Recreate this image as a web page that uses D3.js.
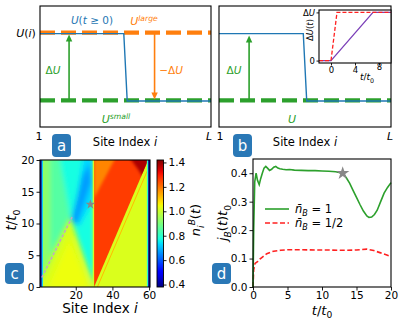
<!DOCTYPE html>
<html>
<head>
<meta charset="utf-8">
<script src="https://cdn.jsdelivr.net/npm/d3@7"></script>
<style>
body { margin: 0; background: #fff; }
text { font-family: "DejaVu Sans", sans-serif; }
</style>
</head>
<body>
<script>
const WIDTH = 399;
const HEIGHT = 319;

// ---- data ----
// panels a/b : potential profile (site fraction 0..1, level 0..1)
const uLarge = 0.78;
const uSmall = 0.22;
const stepX = [0, 0.49, 0.51, 1];
const stepU = [0.772, 0.772, 0.215, 0.215];
const arrowA = [0.17, 0.67];
const arrowB = 0.175;

// inset: ramp of delta U
const rampFastT = [-2, 0, 1, 10];
const rampFastU = [0, 0, 1, 1];
const rampSlowT = [-2, 0, 7, 10];
const rampSlowU = [0, 0, 1, 1];

// panel c : density map regions (site, t) with value n_i^B
const heatBase = 1.02;
const heatSoft = [
    { v: 1.045, pts: [[5, 0], [16.5, 7.5], [27, 0]] },
    { v: 0.92, pts: [[0.5, 0.6], [17, 11], [12, 20.5], [0.5, 20.5]] },
    { v: 0.85, pts: [[6, 5], [17, 11], [12, 20.5], [6, 20.5]] },
    { v: 0.77, pts: [[30, 0.2], [30, 20.5], [11, 20.5], [17, 11]] },
    { v: 0.73, pts: [[19, 11], [22, 9.5], [30, 14], [30, 20.5], [24, 20.5]] },
    { v: 0.67, pts: [[17.5, 10.5], [20.5, 9.8], [28.5, 16.5], [27.5, 19.5], [23.5, 17.5]] }
];
const heatCone = [[30, 0], [30, 20], [59.5, 20]];
const coneValue = 1.26;
const heatConeSoft = [
    { v: 1.18, pts: [[30, 14], [30, 20.5], [42, 20.5]] },
    { v: 1.38, pts: [[49, 20.5], [60, 20.5], [58.5, 16.5], [54, 18.5]] }
];
const heatStripe = { v: 1.12, pts: [[31.8, 0], [60.5, 19.3]] };
const heatEdges = [
    { v: 0.42, x0: 0.5, x1: 1.5 },
    { v: 0.72, x0: 1.5, x1: 2.1 },
    { v: 0.8, x0: 58.8, x1: 59.5 },
    { v: 0.42, x0: 59.5, x1: 60.5 }
];
const frontLine = [[1.5, 1.5], [18, 11]];
const starC = [28, 13];
const cbarTicks = [0.4, 0.6, 0.8, 1.0, 1.2, 1.4];

// panel d : current j_B(t) t0
const tFull = [0, 0.1, 0.25, 0.45, 0.65, 0.9, 1.1, 1.35, 1.6, 1.85, 2.1, 2.4, 2.7, 3.0, 3.3, 3.6, 3.9, 4.3, 4.8, 5.3, 6, 7, 8, 9, 10, 11, 12, 12.5, 13, 13.5, 14, 14.5, 15, 15.5, 16, 16.5, 16.8, 17.2, 17.6, 18, 18.5, 19, 19.5, 20];
const jFull = [0, 0.2, 0.37, 0.40, 0.375, 0.36, 0.38, 0.40, 0.418, 0.424, 0.418, 0.41, 0.414, 0.421, 0.424, 0.418, 0.416, 0.414, 0.412, 0.413, 0.411, 0.41, 0.409, 0.409, 0.408, 0.407, 0.405, 0.403, 0.40, 0.385, 0.365, 0.34, 0.315, 0.29, 0.267, 0.25, 0.245, 0.246, 0.255, 0.27, 0.30, 0.33, 0.35, 0.367];
const tHalf = [0, 0.1, 0.3, 0.7, 1, 1.5, 2, 2.5, 3, 4, 5, 7, 9, 11, 13, 15, 16.5, 17.5, 18.5, 19.3, 20];
const jHalf = [0, 0.06, 0.083, 0.09, 0.098, 0.108, 0.117, 0.122, 0.126, 0.129, 0.131, 0.131, 0.13, 0.13, 0.129, 0.13, 0.133, 0.128, 0.12, 0.113, 0.107];
const starD = [13, 0.40];

const dTicksX = [0, 5, 10, 15, 20];
const dTicksY = [0, 0.1, 0.2, 0.3, 0.4];

// ---- colours ----
const C_BLUE = "#1f77b4";
const C_ORANGE = "#ff7f0e";
const C_GREEN = "#2ca02c";
const C_RED = "#ff2020";
const C_PURPLE = "#7b3fb8";
const C_BADGE = "#2a78b6";

const svg = d3.select("body")
    .append("svg")
    .attr("width", WIDTH)
    .attr("height", HEIGHT);

svg.append("rect").attr("width", WIDTH).attr("height", HEIGHT).attr("fill", "#fff");

// jet colormap
const jetR = d3.scaleLinear().domain([0, 0.35, 0.66, 0.89, 1]).range([0, 0, 1, 1, 0.5]).clamp(true);
const jetG = d3.scaleLinear().domain([0, 0.125, 0.375, 0.64, 0.91, 1]).range([0, 0, 1, 1, 0, 0]).clamp(true);
const jetB = d3.scaleLinear().domain([0, 0.11, 0.34, 0.65, 1]).range([0.5, 1, 1, 0, 0]).clamp(true);
function jet(t) {
    return d3.rgb(255 * jetR(t), 255 * jetG(t), 255 * jetB(t)).formatHex();
}
const norm = d3.scaleLinear().domain([0.38, 1.42]).range([0, 1]).clamp(true);
const heatColor = v => jet(norm(v));

// rich text helper: parts {t, i, sub, sup}
function rich(sel, parts, size) {
    let shift = 0;
    parts.forEach(function(p) {
        const ns = p.sub ? size * 0.28 : (p.sup ? -size * 0.4 : 0);
        const ts = sel.append("tspan").text(p.t);
        if (p.i) ts.attr("font-style", "italic");
        if (p.sub || p.sup) ts.attr("font-size", size * 0.7);
        if (ns !== shift) ts.attr("dy", ns - shift);
        shift = ns;
    });
    return sel;
}

function label(x, y, parts, size, color, anchor, rotate) {
    const t = svg.append("text")
        .attr("font-size", size)
        .attr("fill", color || "#000")
        .attr("text-anchor", anchor || "middle");
    if (rotate) {
        t.attr("transform", `translate(${x},${y}) rotate(-90)`);
    } else {
        t.attr("x", x).attr("y", y);
    }
    return rich(t, parts, size);
}

function badge(x, y, w, h, letter) {
    svg.append("rect").attr("x", x).attr("y", y).attr("width", w).attr("height", h)
        .attr("rx", 4).attr("fill", C_BADGE);
    svg.append("text").attr("x", x + w / 2).attr("y", y + h / 2 + 5)
        .attr("text-anchor", "middle").attr("font-size", 15).attr("fill", "#fff")
        .text(letter);
}

function arrow(x, yFrom, yTo, color) {
    const dir = yTo < yFrom ? 1 : -1;
    svg.append("line").attr("x1", x).attr("x2", x).attr("y1", yFrom).attr("y2", yTo + dir * 5)
        .attr("stroke", color).attr("stroke-width", 1.6);
    svg.append("path")
        .attr("d", `M${x},${yTo} L${x - 3.2},${yTo + dir * 7} L${x + 3.2},${yTo + dir * 7} Z`)
        .attr("fill", color);
}

function frame(x0, y0, x1, y1) {
    svg.append("rect").attr("x", x0).attr("y", y0).attr("width", x1 - x0).attr("height", y1 - y0)
        .attr("fill", "none").attr("stroke", "#000").attr("stroke-width", 1.1);
}

function styleAxis(g, size) {
    g.select(".domain").remove();
    g.selectAll(".tick line").attr("stroke", "#000").attr("stroke-width", 0.9);
    g.selectAll(".tick text").attr("font-size", size).attr("fill", "#000")
        .style("font-family", "DejaVu Sans");
}

// ---- panel a ----
function panelA() {
    const x = d3.scaleLinear().domain([0, 1]).range([40, 211]);
    const y = d3.scaleLinear().domain([0, 1]).range([127, 6]);
    const line = d3.line().x(d => x(d[0])).y(d => y(d[1]));

    svg.append("path").attr("d", line([[0, uLarge], [1, uLarge]]))
        .attr("stroke", C_ORANGE).attr("stroke-width", 4.2).attr("stroke-dasharray", "15,6").attr("fill", "none");
    svg.append("path").attr("d", line([[0, uSmall], [1, uSmall]]))
        .attr("stroke", C_GREEN).attr("stroke-width", 4.2).attr("stroke-dasharray", "15,6").attr("fill", "none");
    svg.append("path").attr("d", line(d3.zip(stepX, stepU)))
        .attr("stroke", C_BLUE).attr("stroke-width", 1.4).attr("fill", "none");

    arrow(x(arrowA[0]), y(uSmall), y(uLarge) + 2, C_GREEN);
    arrow(x(arrowA[1]), y(uLarge), y(uSmall) - 1, C_ORANGE);

    frame(40, 6, 211, 127);

    label(26, 37, [{ t: "U", i: true }, { t: "(" }, { t: "i", i: true }, { t: ")" }], 11, "#000");
    label(92, 24, [{ t: "U", i: true }, { t: "(" }, { t: "t", i: true }, { t: " ≥ 0)" }], 10.5, C_BLUE);
    label(144, 25, [{ t: "U", i: true }, { t: "large", i: true, sup: true }], 11, C_ORANGE);
    label(53, 74, [{ t: "Δ" }, { t: "U", i: true }], 10.5, C_GREEN);
    label(171, 74, [{ t: "−Δ" }, { t: "U", i: true }], 10.5, C_ORANGE);
    label(116, 123, [{ t: "U", i: true }, { t: "small", i: true, sup: true }], 11, C_GREEN);

    label(39, 140, [{ t: "1" }], 11, "#000");
    label(209, 140, [{ t: "L", i: true }], 11, "#000");
    label(125, 146, [{ t: "Site Index " }, { t: "i", i: true }], 11.5, "#000");
}

// ---- panel b ----
function panelB() {
    const x = d3.scaleLinear().domain([0, 1]).range([219, 391]);
    const y = d3.scaleLinear().domain([0, 1]).range([127, 6]);
    const line = d3.line().x(d => x(d[0])).y(d => y(d[1]));

    svg.append("path").attr("d", line([[0, uSmall], [1, uSmall]]))
        .attr("stroke", C_GREEN).attr("stroke-width", 4.2).attr("stroke-dasharray", "15,6").attr("fill", "none");
    svg.append("path").attr("d", line(d3.zip(stepX, stepU)))
        .attr("stroke", C_BLUE).attr("stroke-width", 1.4).attr("fill", "none");

    arrow(x(arrowB), y(uSmall), y(stepU[0]) + 2, C_GREEN);

    frame(219, 6, 391, 127);

    label(234, 74, [{ t: "Δ" }, { t: "U", i: true }], 10.5, C_GREEN);
    label(292, 123, [{ t: "U", i: true }], 11, C_GREEN);
    label(220, 140, [{ t: "1" }], 11, "#000");
    label(390, 140, [{ t: "L", i: true }], 11, "#000");
    label(305, 146, [{ t: "Site Index " }, { t: "i", i: true }], 11.5, "#000");

    // inset
    const ix = d3.scaleLinear().domain([-2, 10]).range([319, 391]);
    const iy = d3.scaleLinear().domain([-0.05, 1.05]).range([63, 10]);
    const il = d3.line().x(d => ix(d[0])).y(d => iy(d[1]));
    svg.append("rect").attr("x", 319).attr("y", 10).attr("width", 72).attr("height", 53).attr("fill", "#fff");
    svg.append("path").attr("d", il(d3.zip(rampSlowT, rampSlowU)))
        .attr("stroke", C_PURPLE).attr("stroke-width", 1.3).attr("fill", "none");
    svg.append("path").attr("d", il(d3.zip(rampFastT, rampFastU)))
        .attr("stroke", C_RED).attr("stroke-width", 1.3).attr("stroke-dasharray", "4,2").attr("fill", "none");
    frame(319, 10, 391, 63);

    const ax = svg.append("g").attr("transform", "translate(0,63)")
        .call(d3.axisBottom(ix).tickValues([0, 4, 8]).tickSize(2.5).tickPadding(1));
    styleAxis(ax, 8.5);
    ax.selectAll(".tick text").filter(d => d === 8).attr("dy", "0.45em");
    const ay = svg.append("g").attr("transform", "translate(319,0)")
        .call(d3.axisLeft(iy).tickValues([0, 1]).tickSize(2.5).tickPadding(1.5)
            .tickFormat(d => d ? "ΔU" : "0"));
    styleAxis(ay, 8.5);
    ay.selectAll(".tick text").filter(d => d === 1).text(null)
        .call(s => rich(s, [{ t: "Δ" }, { t: "U", i: true }], 8.5));

    label(313, 30, [{ t: "Δ" }, { t: "U", i: true }, { t: "(" }, { t: "t", i: true }, { t: ")" }], 8.5, "#000", "middle", true);
    label(367, 80, [{ t: "t", i: true }, { t: "/" }, { t: "t", i: true }, { t: "0", sub: true }], 9, "#000");
}

// ---- panel c ----
function panelC() {
    const x = d3.scaleLinear().domain([0.5, 60.5]).range([40, 150]);
    const y = d3.scaleLinear().domain([0, 20]).range([287, 160]);
    const poly = pts => "M" + pts.map(p => x(p[0]) + "," + y(p[1])).join("L") + "Z";

    const defs = svg.append("defs");
    defs.append("clipPath").attr("id", "clipC").append("rect")
        .attr("x", 40).attr("y", 160).attr("width", 110).attr("height", 127);
    defs.append("clipPath").attr("id", "clipCone").append("path").attr("d", poly(heatCone));
    defs.append("filter").attr("id", "soft").attr("x", "-20%").attr("y", "-20%").attr("width", "140%").attr("height", "140%")
        .append("feGaussianBlur").attr("stdDeviation", 2.4);
    defs.append("filter").attr("id", "soft2").attr("x", "-20%").attr("y", "-20%").attr("width", "140%").attr("height", "140%")
        .append("feGaussianBlur").attr("stdDeviation", 1.6);

    const g = svg.append("g").attr("clip-path", "url(#clipC)");
    g.append("rect").attr("x", 30).attr("y", 150).attr("width", 130).attr("height", 150)
        .attr("fill", heatColor(heatBase));

    g.append("g").attr("filter", "url(#soft)")
        .selectAll("path").data(heatSoft).enter().append("path")
        .attr("d", d => poly(d.pts)).attr("fill", d => heatColor(d.v));

    g.append("path").attr("d", poly(heatCone)).attr("fill", heatColor(coneValue));
    g.append("g").attr("clip-path", "url(#clipCone)")
        .append("g").attr("filter", "url(#soft2)")
        .selectAll("path").data(heatConeSoft).enter().append("path")
        .attr("d", d => poly(d.pts)).attr("fill", d => heatColor(d.v));

    g.append("line")
        .attr("x1", x(heatStripe.pts[0][0])).attr("y1", y(heatStripe.pts[0][1]))
        .attr("x2", x(heatStripe.pts[1][0])).attr("y2", y(heatStripe.pts[1][1]))
        .attr("stroke", heatColor(heatStripe.v)).attr("stroke-width", 1);
    g.append("rect").attr("x", x(29.3)).attr("y", 160).attr("width", x(30) - x(29.3)).attr("height", 127)
        .attr("fill", heatColor(1.0));

    g.selectAll("rect.edge").data(heatEdges).enter().append("rect").attr("class", "edge")
        .attr("x", d => x(d.x0)).attr("width", d => x(d.x1) - x(d.x0))
        .attr("y", 160).attr("height", 127).attr("fill", d => heatColor(d.v));

    g.append("path").attr("d", d3.line().x(d => x(d[0])).y(d => y(d[1]))(frontLine))
        .attr("stroke", "#c6a2c8").attr("stroke-width", 1.4).attr("stroke-dasharray", "3,2").attr("fill", "none");
    g.append("path").attr("d", d3.symbol(d3.symbolStar, 30)())
        .attr("transform", `translate(${x(starC[0])},${y(starC[1])})`).attr("fill", "#888");

    frame(40, 160, 150, 287);
    const ax = svg.append("g").attr("transform", "translate(0,287)")
        .call(d3.axisBottom(x).tickValues([20, 40, 60]).tickSize(3.5).tickPadding(1.5));
    styleAxis(ax, 10.5);
    const ay = svg.append("g").attr("transform", "translate(40,0)")
        .call(d3.axisLeft(y).tickValues([0, 5, 10, 15, 20]).tickSize(3.5).tickPadding(2));
    styleAxis(ay, 10.5);

    label(100, 313, [{ t: "Site Index " }, { t: "i", i: true }], 13.5, "#000");
    label(16, 220, [{ t: "t", i: true }, { t: "/" }, { t: "t", i: true }, { t: "0", sub: true }], 13.5, "#000", "middle", true);

    // colorbar
    const cy = d3.scaleLinear().domain([0.38, 1.42]).range([287, 160]);
    const grad = defs.append("linearGradient").attr("id", "jetGrad")
        .attr("x1", 0).attr("y1", 1).attr("x2", 0).attr("y2", 0);
    d3.range(0, 1.0001, 0.02).forEach(function(t) {
        grad.append("stop").attr("offset", t).attr("stop-color", jet(t));
    });
    svg.append("rect").attr("x", 157).attr("y", 160).attr("width", 6.5).attr("height", 127)
        .attr("fill", "url(#jetGrad)").attr("stroke", "#000").attr("stroke-width", 0.9);
    const ac = svg.append("g").attr("transform", "translate(163.5,0)")
        .call(d3.axisRight(cy).tickValues(cbarTicks).tickFormat(d3.format(".1f")).tickSize(3).tickPadding(2));
    styleAxis(ac, 10.5);
    label(200, 220, [{ t: "n", i: true }, { t: "i", i: true, sub: true }, { t: "B", i: true, sup: true }, { t: "(" }, { t: "t", i: true }, { t: ")" }], 13, "#000", "middle", true);
}

// ---- panel d ----
function panelD() {
    const x = d3.scaleLinear().domain([0, 20]).range([253, 391]);
    const y = d3.scaleLinear().domain([0, 0.45]).range([287, 159]);
    const line = d3.line().x(d => x(d[0])).y(d => y(d[1]));

    svg.append("path").attr("d", line(d3.zip(tHalf, jHalf)))
        .attr("stroke", C_RED).attr("stroke-width", 1.6).attr("stroke-dasharray", "5,2.5").attr("fill", "none");
    svg.append("path").attr("d", line(d3.zip(tFull, jFull)))
        .attr("stroke", C_GREEN).attr("stroke-width", 1.6).attr("fill", "none");
    svg.append("path").attr("d", d3.symbol(d3.symbolStar, 55)())
        .attr("transform", `translate(${x(starD[0])},${y(starD[1])})`).attr("fill", "#888");

    frame(253, 159, 391, 287);
    const ax = svg.append("g").attr("transform", "translate(0,287)")
        .call(d3.axisBottom(x).tickValues(dTicksX).tickSize(3.5).tickPadding(1.5));
    styleAxis(ax, 10.5);
    const ay = svg.append("g").attr("transform", "translate(253,0)")
        .call(d3.axisLeft(y).tickValues(dTicksY).tickFormat(d3.format(".1f")).tickSize(3.5).tickPadding(2));
    styleAxis(ay, 10.5);

    // legend
    svg.append("line").attr("x1", 265).attr("x2", 289).attr("y1", 209).attr("y2", 209)
        .attr("stroke", C_GREEN).attr("stroke-width", 1.6);
    svg.append("line").attr("x1", 265).attr("x2", 289).attr("y1", 223).attr("y2", 223)
        .attr("stroke", C_RED).attr("stroke-width", 1.6).attr("stroke-dasharray", "5,2.5");
    label(295, 213, [{ t: "n\u0304", i: true }, { t: "B", i: true, sub: true }, { t: " = 1" }], 11.5, "#000", "start");
    label(295, 227, [{ t: "n\u0304", i: true }, { t: "B", i: true, sub: true }, { t: " = 1/2" }], 11.5, "#000", "start");

    label(322, 314.5, [{ t: "t", i: true }, { t: "/" }, { t: "t", i: true }, { t: "0", sub: true }], 13, "#000");
    label(227, 223, [{ t: "j", i: true }, { t: "B", i: true, sub: true }, { t: "(" }, { t: "t", i: true }, { t: ")" }, { t: "t", i: true }, { t: "0", sub: true }], 13, "#000", "middle", true);
}

panelA();
panelB();
panelC();
panelD();

badge(52, 134, 19, 23, "a");
badge(233, 134, 19, 23, "b");
badge(5, 263, 19, 21, "c");
badge(212, 263, 19, 21, "d");
</script>
</body>
</html>
